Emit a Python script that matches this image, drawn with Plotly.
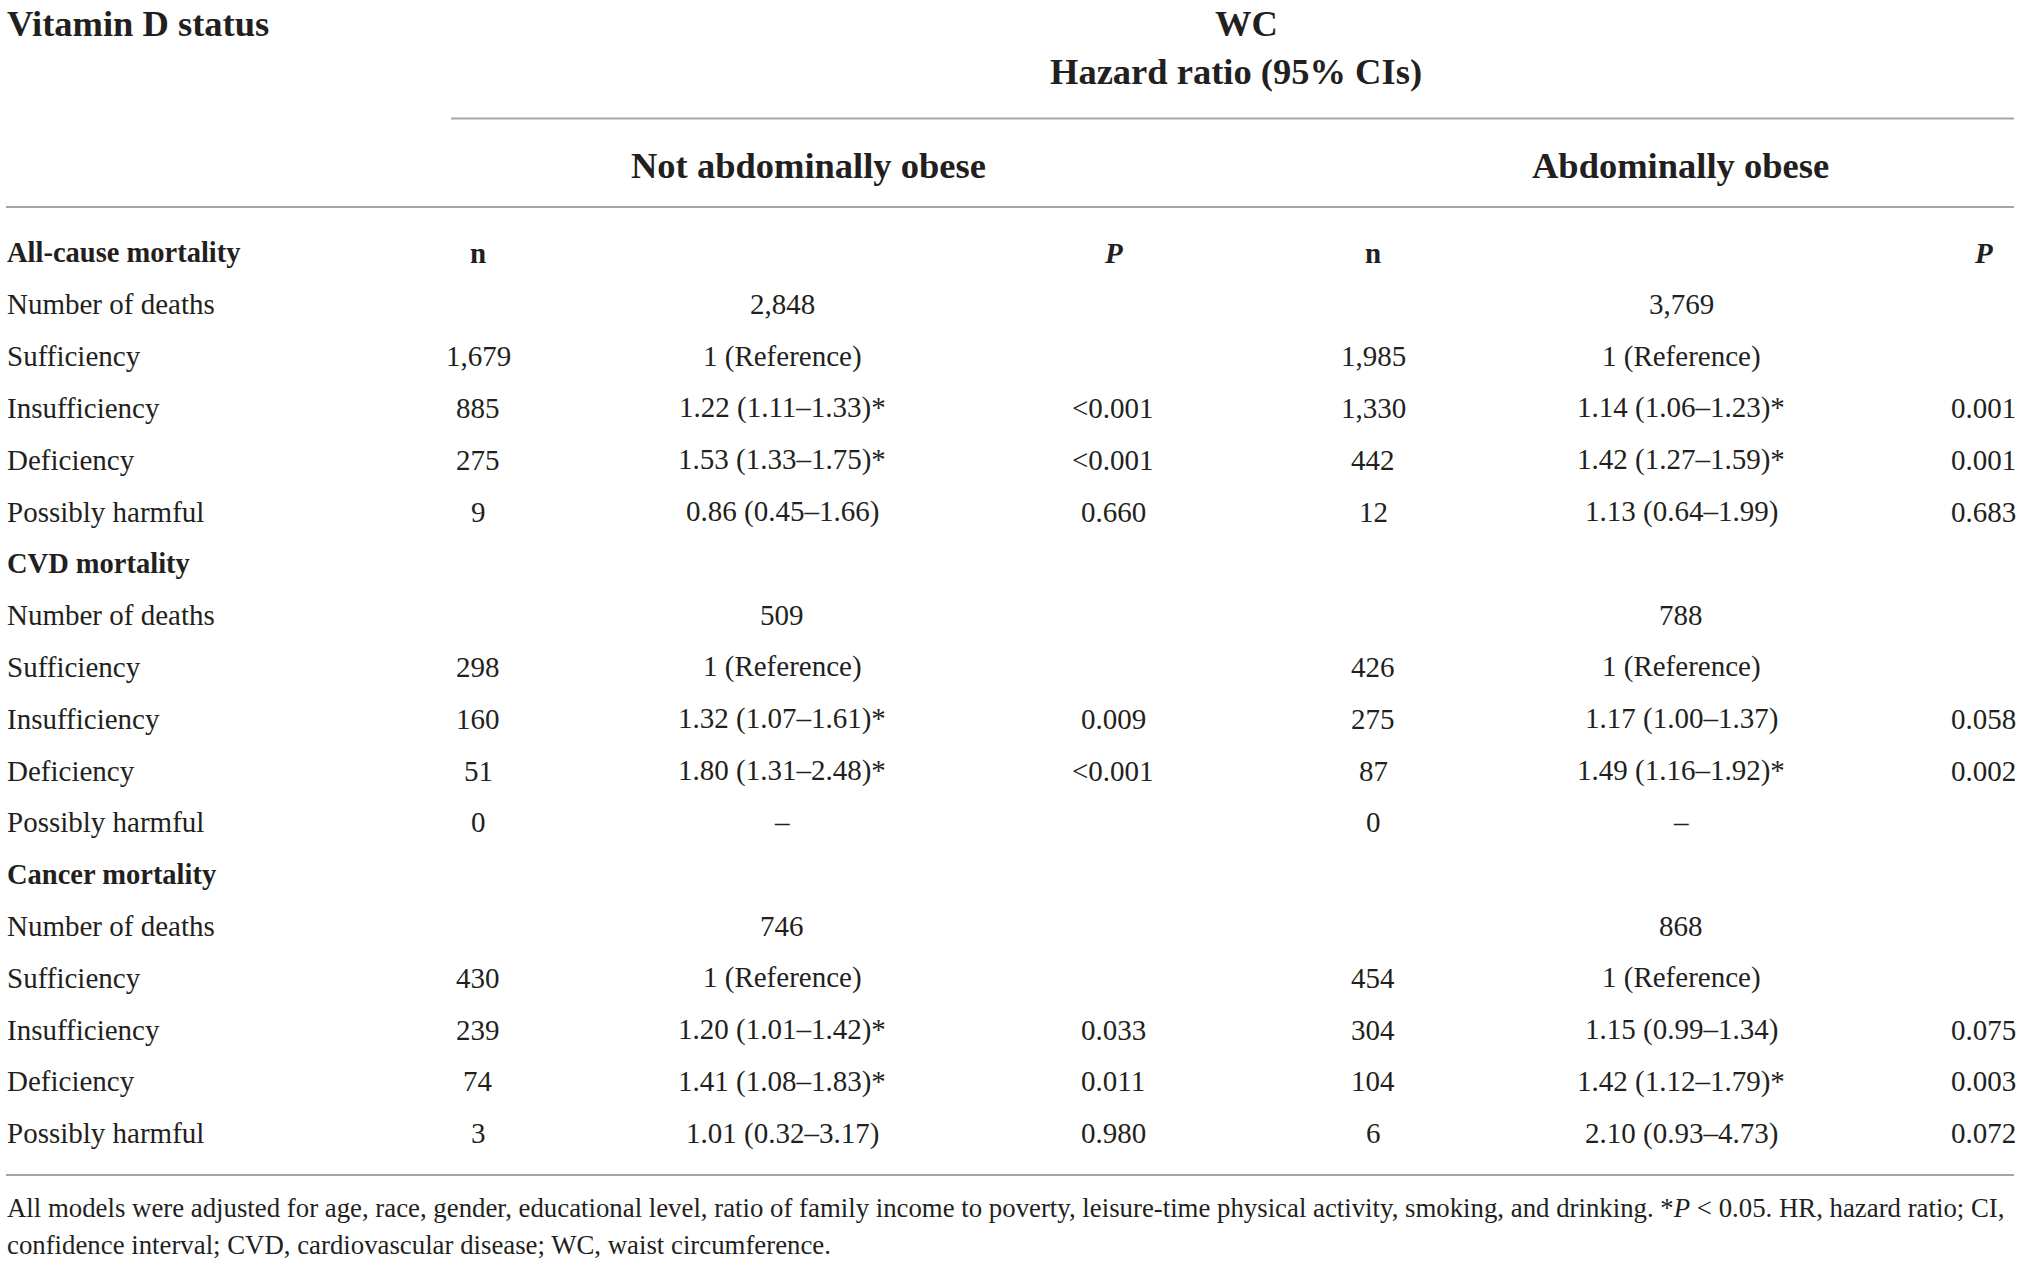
import plotly.graph_objects as go

# rows of the table (label, bold?)
row_labels = [
    "All-cause mortality", "Number of deaths", "Sufficiency", "Insufficiency", "Deficiency", "Possibly harmful",
    "CVD mortality", "Number of deaths", "Sufficiency", "Insufficiency", "Deficiency", "Possibly harmful",
    "Cancer mortality", "Number of deaths", "Sufficiency", "Insufficiency", "Deficiency", "Possibly harmful",
]
section_rows = [0, 6, 12]

# not abdominally obese
n_not = ["", "", "1,679", "885", "275", "9",
         "", "", "298", "160", "51", "0",
         "", "", "430", "239", "74", "3"]
hr_not = ["", "2,848", "1 (Reference)", "1.22 (1.11–1.33)*", "1.53 (1.33–1.75)*", "0.86 (0.45–1.66)",
          "", "509", "1 (Reference)", "1.32 (1.07–1.61)*", "1.80 (1.31–2.48)*", "–",
          "", "746", "1 (Reference)", "1.20 (1.01–1.42)*", "1.41 (1.08–1.83)*", "1.01 (0.32–3.17)"]
p_not = ["", "", "", "<0.001", "<0.001", "0.660",
         "", "", "", "0.009", "<0.001", "",
         "", "", "", "0.033", "0.011", "0.980"]

# abdominally obese
n_ob = ["", "", "1,985", "1,330", "442", "12",
        "", "", "426", "275", "87", "0",
        "", "", "454", "304", "104", "6"]
hr_ob = ["", "3,769", "1 (Reference)", "1.14 (1.06–1.23)*", "1.42 (1.27–1.59)*", "1.13 (0.64–1.99)",
         "", "788", "1 (Reference)", "1.17 (1.00–1.37)", "1.49 (1.16–1.92)*", "–",
         "", "868", "1 (Reference)", "1.15 (0.99–1.34)", "1.42 (1.12–1.79)*", "2.10 (0.93–4.73)"]
p_ob = ["", "", "", "0.001", "0.001", "0.683",
        "", "", "", "0.058", "0.002", "",
        "", "", "", "0.075", "0.003", "0.072"]

footnote = [
    "All models were adjusted for age, race, gender, educational level, ratio of family income to poverty, "
    "leisure-time physical activity, smoking, and drinking. *<i>P</i> < 0.05. HR, hazard ratio; CI,",
    "confidence interval; CVD, cardiovascular disease; WC, waist circumference.",
]

W, H = 2020, 1262
TXT = "#231f20"
LINE = "#a6a6a6"
FONT = "Liberation Serif"
ROW0, ROWH = 252.5, 51.8   # pixel y of first row, row pitch
BODY = 29

col_x = {"n_not": 478, "hr_not": 782, "p_not": 1113,
         "n_ob": 1373, "hr_ob": 1681, "p_ob": 1983}


def ypix(r):
    return ROW0 + ROWH * r


ann = []


def txt(x, y, s, size=BODY, anchor="center", bold=False):
    if bold:
        s = "<b>" + s + "</b>"
    ann.append(dict(x=x, y=y, text=s, xref="x", yref="y", showarrow=False,
                    xanchor=anchor, yanchor="middle", borderpad=0,
                    font=dict(family=FONT, size=size, color=TXT)))


# header block
txt(6, 23, "Vitamin D status", size=36.5, anchor="left", bold=True)
txt(1246, 23, "WC", size=36.5, bold=True)
txt(1236, 71, "Hazard ratio (95% CIs)", size=36.5, bold=True)
txt(808, 165, "Not abdominally obese", size=36.5, bold=True)
txt(1680, 165, "Abdominally obese", size=36.5, bold=True)

# column heads on the first section row
txt(col_x["n_not"], ypix(0), "n", bold=True)
txt(col_x["p_not"], ypix(0), "<i>P</i>", bold=True)
txt(col_x["n_ob"], ypix(0), "n", bold=True)
txt(col_x["p_ob"], ypix(0), "<i>P</i>", bold=True)

for i, lab in enumerate(row_labels):
    y = ypix(i)
    if i in section_rows:
        txt(6, y, lab, size=28.5, anchor="left", bold=True)
    else:
        txt(6, y, lab, anchor="left")
    for key, vals in (("n_not", n_not), ("hr_not", hr_not), ("p_not", p_not),
                      ("n_ob", n_ob), ("hr_ob", hr_ob), ("p_ob", p_ob)):
        if vals[i]:
            s = vals[i].replace("<0", "&lt;0")
            txt(col_x[key], y, s)

for k, line in enumerate(footnote):
    txt(6, 1208 + 36.5 * k, line, size=26.8, anchor="left")

shapes = [
    dict(type="line", x0=451, x1=2014, y0=118.5, y1=118.5, line=dict(color=LINE, width=2)),
    dict(type="line", x0=6, x1=2014, y0=207, y1=207, line=dict(color=LINE, width=2)),
    dict(type="line", x0=6, x1=2014, y0=1175, y1=1175, line=dict(color=LINE, width=2)),
]
for s in shapes:
    s.update(xref="x", yref="y")

fig = go.Figure()
fig.update_layout(
    width=W, height=H,
    margin=dict(l=0, r=0, t=0, b=0),
    paper_bgcolor="white", plot_bgcolor="white",
    xaxis=dict(range=[0, W], visible=False, fixedrange=True),
    yaxis=dict(range=[H, 0], visible=False, fixedrange=True),
    annotations=ann, shapes=shapes, showlegend=False,
)
# the page body has a default 8px margin, drop it so the table sits flush
fig.write_html("out.html", config={"displayModeBar": False},
               post_script="document.body.style.margin='0';document.body.style.overflow='hidden';")
